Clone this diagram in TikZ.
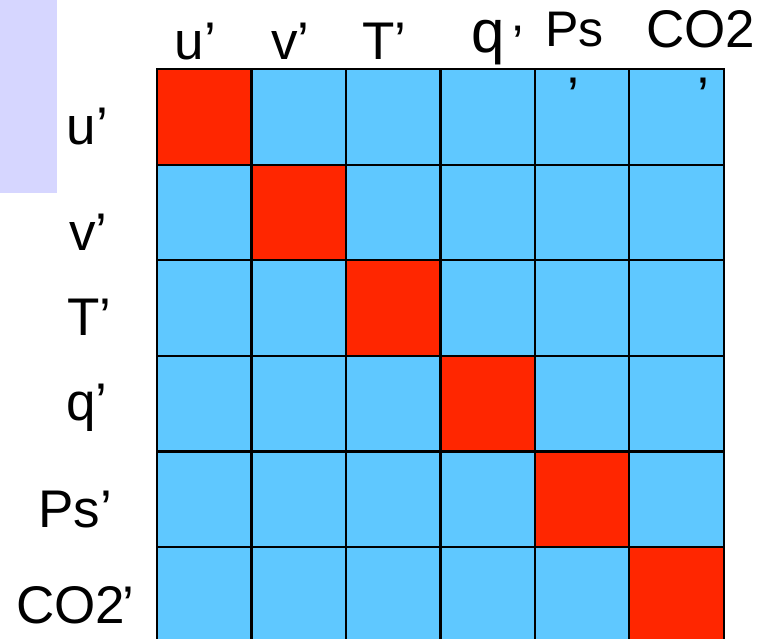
\documentclass[tikz,border=0pt]{standalone}
\usepackage{fontspec}
\setmainfont{Liberation Sans}
\definecolor{cellred}{HTML}{FF2600}
\definecolor{cellblue}{HTML}{5FC8FF}
\definecolor{lav}{HTML}{D6D6FF}
\begin{document}
\begin{tikzpicture}[x=1pt,y=-1pt,
  cell/.style={draw=black,line width=2.2pt,minimum width=94.45pt,minimum height=95.6pt,inner sep=0pt,anchor=north west},
  lab/.style={inner sep=0pt,anchor=base west,font=\fontsize{53}{60}\selectfont},
  tick/.style={inner sep=0pt,anchor=north,font=\fontsize{53}{60}\selectfont}]
\useasboundingbox (0,0) rectangle (776,639);
\clip (0,0) rectangle (776,639);
\node[fill=lav,minimum width=57pt,minimum height=193pt,inner sep=0pt,anchor=north west] (panel) at (0,0) {};
\foreach \r in {0,...,5}{\foreach \c in {0,...,5}{%
  \ifnum\r=\c \def\fc{cellred}\else\def\fc{cellblue}\fi
  \node[cell,fill=\fc] (c\r\c) at ({156+\c*94.45},{68+\r*95.6}) {};
}}
% top labels
\node[lab] (tu) at (174.5,60) {u’};
\node[lab] (tv) at (271,60) {v’};
\node[lab] (tT) at (362,60) {T’};
\node[lab,font=\fontsize{60}{66}\selectfont] (tq) at (471,53) {q};
\node[tick,font=\fontsize{50}{56}\selectfont] (tqa) at (518,26) {’};
\node[lab,font=\fontsize{50}{56}\selectfont] (tP) at (545,47) {Ps};
\node[tick] (tPa) at (573,78) {’};
\node[lab] (tC) at (646,48) {CO2};
\node[tick] (tCa) at (703,78) {’};
% left labels
\node[lab] (lu) at (66.5,145) {u’};
\node[lab] (lv) at (69,250) {v’};
\node[lab] (lT) at (67,335) {T’};
\node[lab] (lq) at (66,420) {q’};
\node[lab] (lP) at (38,527) {Ps’};
\node[lab] (lC) at (16,623) {CO2\kern-3pt’};
\end{tikzpicture}
\end{document}
